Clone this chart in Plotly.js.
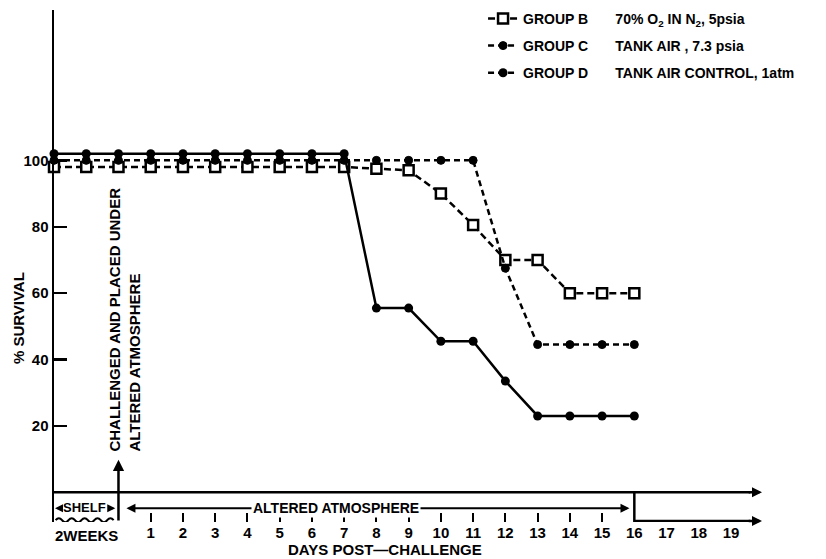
<!DOCTYPE html>
<html>
<head>
<meta charset="utf-8">
<script src="https://cdn.plot.ly/plotly-3.0.1.min.js"></script>
<style>html,body{margin:0;padding:0;background:#fff;}#chart{width:826px;height:559px;}</style>
</head>
<body>
<div id="chart"></div>
<script>
// ---- data ----
const days = [-2, -1, 0, 1, 2, 3, 4, 5, 6, 7, 8, 9, 10, 11, 12, 13, 14, 15, 16];
const groupB = [98, 98, 98, 98, 98, 98, 98, 98, 98, 98, 97.5, 97, 90, 80.5, 70, 70, 60, 60, 60];
const groupC = [100, 100, 100, 100, 100, 100, 100, 100, 100, 100, 100, 100, 100, 100, 67.5, 44.5, 44.5, 44.5, 44.5];
const groupD = [102, 102, 102, 102, 102, 102, 102, 102, 102, 102, 55.5, 55.5, 45.5, 45.5, 33.5, 23, 23, 23, 23];
const legendNames = [
  'GROUP B' + '\u00A0'.repeat(7) + '70% O<sub>2</sub> IN N<sub>2</sub>, 5psia',
  'GROUP C' + '\u00A0'.repeat(7) + 'TANK AIR , 7.3 psia',
  'GROUP D' + '\u00A0'.repeat(7) + 'TANK AIR CONTROL, 1atm'
];
const xTickVals = [1, 2, 3, 4, 5, 6, 7, 8, 9, 10, 11, 12, 13, 14, 15, 16, 17, 18, 19];
const xTickText = xTickVals.map(String);
const xTickMarks = [1, 2, 3, 4, 5, 6, 7, 8, 9, 10, 11, 12, 13, 14, 15];
const yTickVals = [20, 40, 60, 80, 100];

const FONT = 'Liberation Sans, Arial, sans-serif';
const X0 = -2, X1 = 19.96, Y0 = -8.95, Y1 = 145.3;

const styleB = {line: {color: 'black', width: 2.5, dash: '7px,4px'},
  marker: {symbol: 'square', size: 10, color: 'white', line: {color: 'black', width: 2.5}}};
const styleC = {line: {color: 'black', width: 2.5, dash: '6px,4px'},
  marker: {symbol: 'circle', size: 8, color: 'black', line: {color: 'black', width: 1}}};
const styleD = {line: {color: 'black', width: 2.5},
  marker: {symbol: 'circle', size: 9, color: 'black'}};

const traces = [
  Object.assign({x: days, y: groupB, mode: 'lines+markers', showlegend: false, cliponaxis: false}, styleB),
  Object.assign({x: days, y: groupC, mode: 'lines+markers', showlegend: false, cliponaxis: false}, styleC),
  Object.assign({x: days, y: groupD, mode: 'lines+markers', showlegend: false, cliponaxis: false}, styleD),
  // legend samples
  Object.assign({x: [null], y: [null], mode: 'lines+markers', name: legendNames[0], legendgroup: 'b'}, styleB),
  Object.assign({x: [null], y: [null], mode: 'lines+markers', name: legendNames[1], legendgroup: 'c'}, styleC),
  {x: [null], y: [null], mode: 'lines+markers', name: legendNames[2], legendgroup: 'd',
   line: {color: 'black', width: 2.5, dash: '6px,4px'}, marker: {symbol: 'circle', size: 9, color: 'black'}},
  // holder for the tick-mark axis
  {x: [null], y: [null], xaxis: 'x2', yaxis: 'y', showlegend: false, hoverinfo: 'skip'}
];

function arrow(x, y, ax, ay, extra) {
  return Object.assign({x: x, y: y, ax: ax, ay: ay, xref: 'x', yref: 'y', axref: 'x', ayref: 'y',
    text: '', showarrow: true, arrowhead: 2, arrowsize: 1, arrowwidth: 2.5, arrowcolor: 'black'}, extra || {});
}

const bold = {family: FONT, size: 15, color: 'black', weight: 'bold'};

const layout = {
  width: 826, height: 559,
  margin: {l: 54, r: 64, t: 10, b: 37, pad: 0, autoexpand: false},
  paper_bgcolor: 'white', plot_bgcolor: 'white',
  font: {family: FONT, size: 14, color: 'black', weight: 'bold'},
  showlegend: true,
  legend: {x: 0.606, y: 0.995, yref: 'container', xanchor: 'left', yanchor: 'top', bgcolor: 'rgba(0,0,0,0)',
    font: {family: FONT, size: 14, color: 'black', weight: 'bold'},
    traceorder: 'grouped', tracegroupgap: 6, itemwidth: 30},
  xaxis: {range: [X0, X1], tickvals: xTickVals, ticktext: xTickText, ticks: '', showline: false,
    zeroline: false, showgrid: false, tickfont: bold, fixedrange: true},
  xaxis2: {range: [X0, X1], overlaying: 'x', anchor: 'y', side: 'bottom', tickvals: xTickMarks,
    ticks: 'inside', ticklen: 9, tickwidth: 2, tickcolor: 'black', showticklabels: false,
    showline: false, zeroline: false, showgrid: false},
  yaxis: {range: [Y0, Y1], tickvals: yTickVals, ticks: 'inside', ticklen: 13, tickwidth: 2.5,
    tickcolor: 'black', showline: true, linewidth: 2.5, linecolor: 'black', zeroline: false,
    showgrid: false, tickfont: bold},
  shapes: [
    // baseline at 0 %
    {type: 'line', xref: 'x', yref: 'y', x0: X0, x1: 19.6, y0: 0, y1: 0, line: {color: 'black', width: 2.5}},
    // bottom line from day 16
    {type: 'line', xref: 'x', yref: 'y', x0: 16, x1: 19.6, y0: Y0 + 0.3, y1: Y0 + 0.3, line: {color: 'black', width: 2.5}},
    // vertical at day 16
    {type: 'line', xref: 'x', yref: 'y', x0: 16, x1: 16, y0: Y0, y1: 0, line: {color: 'black', width: 2.5}},
    // wavy line under SHELF
    {type: 'path', xref: 'x', yref: 'y',
     path: 'M -1.95,-8.4 Q -1.85,-7.2 -1.75,-8.4 Q -1.65,-9.6 -1.55,-8.4 Q -1.45,-7.2 -1.35,-8.4 Q -1.25,-9.6 -1.15,-8.4 Q -1.05,-7.2 -0.95,-8.4 Q -0.85,-9.6 -0.75,-8.4 Q -0.65,-7.2 -0.55,-8.4 Q -0.45,-9.6 -0.35,-8.4 Q -0.25,-7.2 -0.15,-8.4',
     line: {color: 'black', width: 2}}
  ],
  annotations: [
    // arrow heads on the horizontal lines
    arrow(X1, 0, 19.5, 0, {arrowhead: 2, arrowsize: 0.8}),
    arrow(X1, Y0 + 0.3, 19.5, Y0 + 0.3, {arrowhead: 2, arrowsize: 0.8}),
    // challenge arrow at day 0
    arrow(0, 9.8, 0, Y0, {arrowhead: 2, arrowsize: 0.9}),
    // altered atmosphere span
    arrow(15.85, -4.8, 0.2, -4.8, {arrowhead: 2, arrowsize: 0.9, arrowside: 'end+start', arrowwidth: 2}),
    // shelf arrow heads
    arrow(-0.1, -4.8, -0.25, -4.8, {arrowhead: 2, arrowsize: 0.8, arrowwidth: 2}),
    arrow(-1.97, -4.8, -1.85, -4.8, {arrowhead: 2, arrowsize: 0.8, arrowwidth: 2}),
    {x: 6.74, y: -4.6, xref: 'x', yref: 'y', text: 'ALTERED ATMOSPHERE', showarrow: false,
     bgcolor: 'white', font: {family: FONT, size: 14, color: 'black', weight: 'bold'}, borderpad: 1},
    {x: -1.05, y: -4.6, xref: 'x', yref: 'y', text: 'SHELF', showarrow: false,
     font: {family: FONT, size: 13, color: 'black', weight: 'bold'}, borderpad: 0},
    {x: 0.2, y: 52, xref: 'x', yref: 'y', text: 'CHALLENGED AND PLACED UNDER<br>ALTERED ATMOSPHERE',
     textangle: -90, align: 'left', showarrow: false,
     font: {family: FONT, size: 15, color: 'black', weight: 'bold'}},
    {x: -1.0, y: -0.026, xref: 'x', yref: 'paper', yanchor: 'middle', text: '2WEEKS', showarrow: false,
     font: {family: FONT, size: 15, color: 'black', weight: 'bold'}},
    {x: 8.26, y: -0.053, xref: 'x', yref: 'paper', yanchor: 'middle', text: 'DAYS POST\u2014CHALLENGE',
     showarrow: false, font: {family: FONT, size: 15, color: 'black', weight: 'bold'}},
    {x: -0.051, y: 0.398, xref: 'paper', yref: 'paper', xanchor: 'center', yanchor: 'middle',
     text: '% SURVIVAL', textangle: -90,
     showarrow: false, font: {family: FONT, size: 15, color: 'black', weight: 'bold'}}
  ]
};

Plotly.newPlot('chart', traces, layout, {displayModeBar: false, staticPlot: true});
</script>
</body>
</html>
